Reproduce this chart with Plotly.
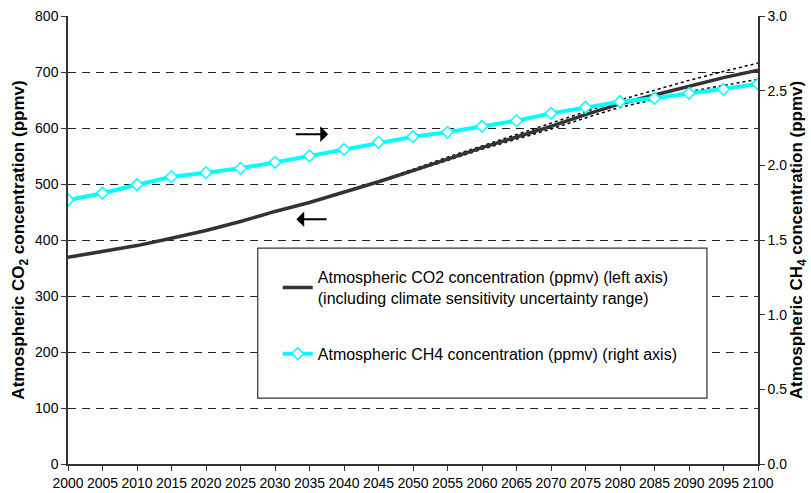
import plotly.graph_objects as go

# Projection years (5-year steps)
years = list(range(2000, 2101, 5))

# Atmospheric CO2 concentration, ppmv (left axis)
co2 = [369, 379, 390, 403, 417, 433, 451, 467, 485, 504, 524,
       545, 565, 584, 603, 624, 643, 659, 675, 690, 703]

# Climate sensitivity uncertainty range for CO2, 2045 onwards
range_years = list(range(2045, 2101, 5))
co2_high = [505, 527, 548, 568, 588, 608, 629, 650, 668, 685, 701, 716]
co2_low = [503, 522, 542, 562, 580, 598, 618, 637, 651, 665, 676, 687]

# Atmospheric CH4 concentration, ppmv (right axis)
ch4 = [1.768, 1.813, 1.870, 1.924, 1.951, 1.980, 2.020, 2.063, 2.107, 2.154, 2.192,
       2.221, 2.261, 2.299, 2.348, 2.389, 2.426, 2.449, 2.482, 2.509, 2.545]

co2_ticks = list(range(0, 801, 100))
ch4_ticks = [0.0, 0.5, 1.0, 1.5, 2.0, 2.5, 3.0]

FONT = "Liberation Sans, Arial, sans-serif"
AXIS = "#333333"

fig = go.Figure()

fig.add_trace(go.Scatter(
    x=range_years, y=co2_high, mode="lines", yaxis="y",
    line=dict(color="black", width=1.5, dash="dot"),
    showlegend=False, hoverinfo="skip"))
fig.add_trace(go.Scatter(
    x=range_years, y=co2_low, mode="lines", yaxis="y",
    line=dict(color="black", width=1.5, dash="dot"),
    showlegend=False, hoverinfo="skip"))

fig.add_trace(go.Scatter(
    x=years, y=co2, mode="lines", yaxis="y",
    name="Atmospheric CO2 concentration (ppmv) (left axis)<br>(including climate sensitivity uncertainty range)",
    line=dict(color="#333333", width=3.5), legendgroup="a"))

fig.add_trace(go.Scatter(
    x=years, y=ch4, mode="lines+markers", yaxis="y2",
    name="Atmospheric CH4 concentration (ppmv) (right axis)",
    line=dict(color="#00FFFF", width=4),
    marker=dict(symbol="diamond", size=9, color="white",
                line=dict(color="#00FFFF", width=1.5)),
    legendgroup="b"))

# Legend frame (white, hides the grid behind it)
fig.add_shape(type="rect", xref="paper", yref="paper",
              x0=0.275, x1=0.926, y0=0.147, y1=0.482,
              line=dict(color="#333333", width=1.2), fillcolor="white",
              layer="above")

# Direction arrows pointing to each series' axis
fig.add_annotation(x=2037.7, y=589, ax=2032.8, ay=589, xref="x", yref="y",
                   axref="x", ayref="y", text="", showarrow=True,
                   arrowhead=1, arrowsize=1.3, arrowwidth=2, arrowcolor="black")
fig.add_annotation(x=2033.1, y=437, ax=2037.7, ay=437, xref="x", yref="y",
                   axref="x", ayref="y", text="", showarrow=True,
                   arrowhead=1, arrowsize=1.3, arrowwidth=2, arrowcolor="black")

fig.update_layout(
    width=811, height=493,
    margin=dict(l=68, r=53, t=16, b=29),
    paper_bgcolor="white", plot_bgcolor="white",
    font=dict(family=FONT, size=14, color="black"),
    showlegend=True,
    legend=dict(x=0.304, y=0.455, xanchor="left", yanchor="top",
                bgcolor="rgba(0,0,0,0)", borderwidth=0,
                font=dict(family=FONT, size=16, color="black"),
                traceorder="grouped", tracegroupgap=32),
    xaxis=dict(range=[2000, 2100], tickvals=years, ticktext=[str(y) for y in years],
               showgrid=False, zeroline=False, showline=True, linecolor=AXIS,
               linewidth=1.5, ticks="outside", ticklen=5, tickcolor=AXIS,
               tickfont=dict(size=14), automargin=False),
    yaxis=dict(range=[0, 800], tickvals=co2_ticks, showgrid=True,
               gridcolor="#222222", gridwidth=1, griddash="8px,6px",
               zeroline=False, showline=True, linecolor=AXIS, linewidth=1.5,
               ticks="outside", ticklen=5, tickcolor=AXIS,
               tickfont=dict(size=14), automargin=False,
               title=dict(text="<b>Atmospheric CO<sub>2</sub> concentration (ppmv)</b>",
                          font=dict(size=17), standoff=6)),
    yaxis2=dict(range=[0, 3], tickvals=ch4_ticks, tickformat=".1f",
                overlaying="y", side="right", anchor="x", showgrid=False,
                zeroline=False, showline=True, linecolor=AXIS, linewidth=1.5,
                ticks="outside", ticklen=5, tickcolor=AXIS,
                tickfont=dict(size=14), automargin=False,
                title=dict(text="<b>Atmospheric CH<sub>4</sub> concentration (ppmv)</b>",
                           font=dict(size=17), standoff=4)),
    yaxis3=dict(range=[0, 3], tickvals=ch4_ticks, overlaying="y", side="right",
                anchor="x", showgrid=False, zeroline=False, showline=False,
                ticks="inside", ticklen=5, tickcolor=AXIS, showticklabels=False,
                automargin=False),
)

fig.write_html("out.html")
